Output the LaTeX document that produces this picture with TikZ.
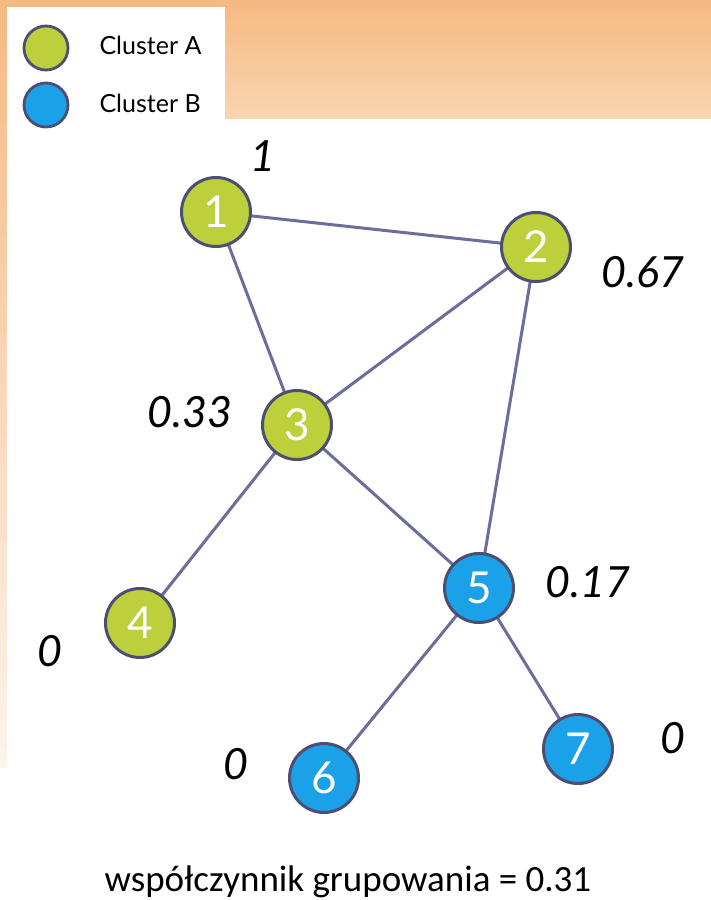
\documentclass[tikz,border=0pt]{standalone}
\usepackage{fontspec}
\setmainfont{Lato}
\newfontfamily\capfont{Carlito}
\definecolor{grA}{HTML}{BDD03C}
\definecolor{blB}{HTML}{1BA1E8}
\definecolor{rim}{HTML}{4D4F72}
\definecolor{edgec}{HTML}{6B6E9B}
\definecolor{orTop}{HTML}{F5B982}
\definecolor{orBot}{HTML}{F9D5B0}
\definecolor{stripBot}{HTML}{FDF4EC}
\tikzset{
  vtx/.style={circle, draw=rim, line width=3pt, minimum size=69pt, inner sep=0pt,
              text=white, font=\fontsize{44}{44}\selectfont},
  ca/.style={vtx, fill=grA},
  cb/.style={vtx, fill=blB},
  lgd/.style={circle, draw=rim, line width=2.8pt, minimum size=44pt, inner sep=0pt},
  lgtext/.style={anchor=west, font=\fontsize{25}{25}\selectfont, text=black},
  coef/.style={font=\fontsize{43}{43}\selectfont\itshape, text=black},
  link/.style={draw=edgec, line width=3pt}
}
\begin{document}
\begin{tikzpicture}[x=1pt,y=-1pt]
\useasboundingbox (0,0) rectangle (711,900);
\fill[white] (0,0) rectangle (711,900);
\shade[top color=orTop, bottom color=orBot] (0,0) rectangle (711,119);
\shade[top color=orTop, bottom color=stripBot] (0,0) rectangle (7,767);
\fill[white] (7,7) rectangle (225,130);
\fill[white] (7,119) rectangle (711,900);
% legend
\node[lgd, fill=grA] (lga) at (46,48) {};
\node[lgd, fill=blB] (lgb) at (46,105) {};
\node[lgtext] (lta) at (96,45) {Cluster A};
\node[lgtext] (ltb) at (96,103) {Cluster B};
% edges (drawn first, under the nodes)
\coordinate (p1) at (216,212);
\coordinate (p2) at (536,247);
\coordinate (p3) at (297,425);
\coordinate (p4) at (140,623);
\coordinate (p5) at (479,588);
\coordinate (p6) at (324,778);
\coordinate (p7) at (578,749);
\path[link] (p1) -- (p2);
\path[link] (p1) -- (p3);
\path[link] (p2) -- (p3);
\path[link] (p2) -- (p5);
\path[link] (p3) -- (p5);
\path[link] (p3) -- (p4);
\path[link] (p5) -- (p6);
\path[link] (p5) -- (p7);
% nodes
\node[ca] (n1) at (p1) {1};
\node[ca] (n2) at (p2) {2};
\node[ca] (n3) at (p3) {3};
\node[ca] (n4) at (p4) {4};
\node[cb] (n5) at (p5) {5};
\node[cb] (n6) at (p6) {6};
\node[cb] (n7) at (p7) {7};
% coefficients
\node[coef] (c1) at (263,156) {1};
\node[coef] (c2) at (643,272) {0.67};
\node[coef] (c3) at (190,412) {0.33};
\node[coef] (c5) at (588,582) {0.17};
\node[coef] (c4) at (50,651) {0};
\node[coef] (c6) at (236,764) {0};
\node[coef] (c7) at (673,738) {0};
% caption
\node[font=\capfont\fontsize{37}{37}\selectfont] (cap) at (348,882) {współczynnik grupowania = 0.31};
\end{tikzpicture}
\end{document}
